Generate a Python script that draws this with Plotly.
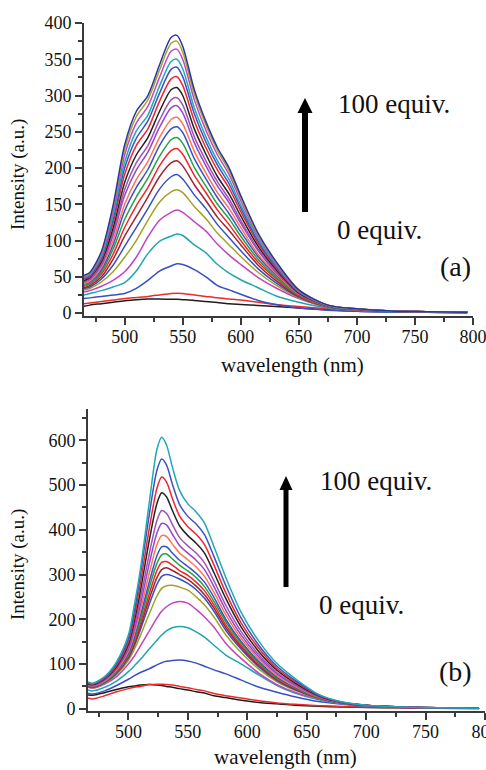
import plotly.graph_objects as go

W, H = 486, 770

# ---- panel (a): emission spectra, 0 -> 100 equiv. in steps of 5 ----
wl_a = [465, 470, 480, 490, 500, 510, 520, 530, 540, 545, 550, 560, 570, 580,
        590, 600, 615, 630, 650, 675, 700, 730, 760, 795]

a_eq000 = [9.5, 11, 13, 15, 17, 18.5, 19.5, 19.5, 19, 19, 18.5, 17.5, 16, 14.5, 13, 12, 10.5, 9, 7, 4.5, 2.5, 1.5, 1, 0.5]
a_eq005 = [13, 14, 16, 18, 20, 21.5, 23, 25, 27, 27.5, 27, 25, 23, 21, 19.5, 18, 15, 12, 9, 6, 3.5, 2, 1.2, 0.8]
a_eq010 = [20, 21, 23, 25, 27, 34, 45, 58, 65, 68, 67, 60, 50, 38, 32, 26, 17.5, 12, 7, 4, 2.5, 1.5, 1, 0.5]
a_eq015 = [25, 27, 31, 36, 42, 58, 82, 99, 106, 109, 107, 94, 83, 67, 55, 46, 35, 24, 15, 7, 4, 2, 1.2, 0.8]
a_eq020 = [29, 31, 37, 45, 57, 77, 105, 128, 139, 142, 139, 126, 113, 95, 80, 67, 49, 35, 20, 8, 4, 2.5, 1.5, 1]
a_eq025 = [32, 34, 43, 57, 77, 100, 128, 153, 167, 170, 166, 147, 130, 110, 94, 78, 56, 39, 21, 8.3, 4.2, 2.5, 1.6, 1]
a_eq030 = [34, 36, 47, 66, 92, 118, 144, 171, 188, 191, 185, 163, 144, 122, 104, 86, 61, 42, 22, 8.6, 4.4, 2.6, 1.6, 1]
a_eq035 = [35, 38, 50, 74, 106, 133, 160, 188, 207, 210, 203, 177, 155, 132, 114, 94, 66, 45, 23, 8.8, 4.6, 2.6, 1.6, 1]
a_eq040 = [37, 40, 54, 81, 118, 148, 173, 203, 224, 227, 219, 190, 166, 142, 122, 100, 70, 48, 24, 9, 4.7, 2.7, 1.7, 1]
a_eq045 = [38, 41, 57, 88, 129, 160, 186, 216, 239, 242, 234, 201, 175, 150, 130, 106, 74, 50, 25, 9.2, 4.8, 2.7, 1.7, 1]
a_eq050 = [40, 43, 60, 94, 141, 173, 198, 231, 254, 257, 249, 213, 185, 159, 137, 112, 78, 53, 26, 9.4, 5, 2.7, 1.7, 1]
a_eq055 = [41, 44, 63, 100, 150, 184, 209, 242, 267, 270, 261, 223, 193, 166, 144, 118, 81, 55, 26, 9.6, 5, 2.8, 1.8, 1]
a_eq060 = [43, 46, 66, 107, 162, 197, 222, 256, 283, 286, 276, 235, 203, 175, 152, 124, 86, 57, 27, 9.8, 5.2, 2.8, 1.8, 1]
a_eq065 = [44, 47, 68, 111, 170, 207, 231, 266, 294, 297, 287, 243, 210, 181, 157, 128, 88, 59, 28, 10, 5.3, 2.8, 1.8, 1]
a_eq070 = [45, 49, 71, 117, 180, 218, 242, 278, 308, 311, 300, 254, 219, 188, 164, 134, 92, 61, 28, 10, 5.4, 2.9, 1.9, 1]
a_eq075 = [47, 50, 74, 124, 191, 231, 254, 292, 323, 326, 314, 265, 228, 197, 172, 140, 96, 63, 29, 10.3, 5.5, 2.9, 1.9, 1]
a_eq080 = [48, 51, 76, 129, 200, 241, 265, 303, 336, 339, 326, 275, 236, 204, 178, 145, 99, 65, 30, 10.5, 5.6, 2.9, 1.9, 1]
a_eq085 = [49, 53, 78, 134, 208, 251, 273, 313, 347, 350, 337, 283, 243, 210, 184, 149, 102, 67, 30, 10.6, 5.7, 2.9, 1.9, 1]
a_eq090 = [50, 54, 81, 140, 218, 262, 285, 325, 361, 364, 350, 294, 252, 218, 191, 155, 105, 69, 31, 10.8, 5.8, 3, 2, 1]
a_eq095 = [51, 55, 83, 145, 226, 271, 294, 335, 372, 375, 360, 302, 259, 224, 196, 159, 108, 71, 32, 10.9, 5.9, 3, 2, 1]
a_eq100 = [52, 56, 85, 148, 232, 278, 300, 342, 380, 383, 368, 308, 264, 228, 200, 162, 110, 72, 32, 11, 6, 3, 2, 1]

series_a = [a_eq000, a_eq005, a_eq010, a_eq015, a_eq020, a_eq025, a_eq030,
            a_eq035, a_eq040, a_eq045, a_eq050, a_eq055, a_eq060, a_eq065,
            a_eq070, a_eq075, a_eq080, a_eq085, a_eq090, a_eq095, a_eq100]

# ---- panel (b): emission spectra ----
wl_b = [466, 470, 480, 490, 500, 505, 510, 518, 524, 528, 532, 537, 543, 550,
        557, 564, 572, 582, 595, 610, 625, 640, 660, 680, 700, 730, 760, 795]

b_s01 = [31, 30, 36, 43, 49, 51, 53, 54, 53, 52, 50, 48, 45, 42, 38, 35, 29, 25, 19, 14, 11, 8, 5.5, 4, 3, 2, 1, 0.5]
b_s02 = [24, 22, 29, 38, 45, 48, 50, 54, 55, 55, 54.5, 53, 50, 47, 43, 40, 34, 29, 24, 18, 13, 10, 7, 5, 3.5, 2, 1.2, 0.7]
b_s03 = [35, 33, 40, 52, 66, 74, 81, 90, 98, 103, 106, 108, 109, 107, 102, 95, 87, 78, 64, 48, 37, 27, 16, 10, 5.5, 3, 1.5, 1]
b_s04 = [42, 40, 48, 62, 83, 96, 110, 135, 153, 165, 174, 181, 184, 181, 172, 160, 142, 120, 100, 75, 52, 35, 20, 11, 6.5, 3.5, 2, 1]
b_s05 = [48, 46, 55, 72, 100, 118, 140, 176, 203, 218, 228, 236, 240, 236, 222, 205, 182, 146, 112, 79, 54, 37, 22, 12, 7, 3.5, 2, 1]
b_s06 = [50, 47, 57, 76, 108, 133, 163, 215, 252, 269, 275, 276, 272, 265, 250, 232, 205, 165, 125, 88, 60, 41, 23, 12.4, 7.1, 3.6, 2, 1]
b_s07 = [50, 48, 58, 79, 113, 141, 176, 237, 278, 296, 300, 297, 290, 280, 266, 247, 218, 175, 133, 93, 63, 43, 24, 12.6, 7.2, 3.6, 2, 1]
b_s08 = [51, 49, 59, 80, 116, 145, 183, 249, 293, 311, 315, 309, 300, 289, 274, 255, 225, 181, 137, 96, 65, 44, 24, 12.7, 7.2, 3.6, 2, 1]
b_s09 = [51, 49, 60, 81, 118, 150, 190, 261, 309, 327, 329, 321, 309, 298, 283, 264, 232, 187, 141, 99, 67, 46, 25, 12.8, 7.3, 3.6, 2, 1]
b_s10 = [52, 50, 60, 83, 121, 155, 198, 275, 325, 344, 346, 335, 321, 308, 293, 273, 240, 194, 146, 102, 69, 47, 25, 13, 7.3, 3.7, 2, 1]
b_s11 = [52, 50, 61, 84, 124, 160, 207, 288, 342, 362, 362, 348, 332, 318, 303, 283, 249, 200, 150, 105, 71, 48, 26, 13, 7.4, 3.7, 2, 1]
b_s12 = [53, 51, 62, 86, 128, 168, 218, 308, 367, 387, 385, 368, 348, 333, 317, 296, 260, 210, 157, 110, 74, 50, 26, 13.3, 7.4, 3.7, 2, 1]
b_s13 = [54, 52, 64, 89, 133, 176, 231, 330, 393, 414, 411, 390, 365, 348, 332, 311, 273, 220, 164, 115, 78, 53, 27, 13.5, 7.5, 3.8, 2, 1]
b_s14 = [55, 52, 65, 91, 138, 184, 244, 352, 421, 443, 437, 412, 383, 364, 348, 326, 286, 231, 172, 120, 81, 55, 28, 13.7, 7.6, 3.8, 2, 1]
b_s15 = [56, 54, 67, 94, 144, 196, 262, 383, 459, 483, 474, 443, 409, 387, 370, 348, 304, 246, 182, 127, 86, 58, 29, 14, 7.7, 3.8, 2, 1]
b_s16 = [57, 55, 68, 97, 150, 206, 279, 410, 493, 518, 507, 470, 431, 407, 390, 367, 321, 259, 191, 134, 90, 61, 30, 14.3, 7.8, 3.9, 2, 1]
b_s17 = [58, 56, 70, 101, 157, 218, 298, 442, 533, 558, 545, 502, 457, 430, 413, 389, 340, 275, 202, 141, 95, 64, 31, 14.6, 7.9, 3.9, 2, 1]
b_s18 = [60, 57, 72, 105, 165, 232, 310, 470, 580, 607, 590, 540, 488, 458, 440, 415, 362, 293, 215, 150, 101, 68, 32, 15, 8, 4, 2, 1]

series_b = [b_s01, b_s02, b_s03, b_s04, b_s05, b_s06, b_s07, b_s08, b_s09,
            b_s10, b_s11, b_s12, b_s13, b_s14, b_s15, b_s16, b_s17, b_s18]

# line colours, cycled in titration order
palette = ["#1e1e1e", "#ee2a2a", "#3a4fc4", "#1fa5ad", "#c243c2", "#a3a226",
           "#3550c2", "#a0242e", "#f0262e", "#25a244", "#3652c8", "#ff7452",
           "#9446cc", "#a452b4", "#222222", "#f0262e", "#3a52c4", "#22a8b2",
           "#c446c8", "#a4a428", "#2a36a4"]

SERIF = "Liberation Serif, Times New Roman, Times, serif"
AXIS_COL = "#3a3a3a"

fig = go.Figure()

for i, ys in enumerate(series_a):
    fig.add_trace(go.Scatter(
        x=wl_a, y=ys, mode="lines", xaxis="x", yaxis="y",
        line=dict(color=palette[i], width=1.5, shape="spline", smoothing=0.8),
        hoverinfo="skip"))

for i, ys in enumerate(series_b):
    fig.add_trace(go.Scatter(
        x=wl_b, y=ys, mode="lines", xaxis="x2", yaxis="y2",
        line=dict(color=palette[i], width=1.5, shape="spline", smoothing=0.8),
        hoverinfo="skip"))


def px(x):
    return x / W


def py(y):
    return 1 - y / H


axis_common = dict(
    showgrid=False, zeroline=False, showline=True, linecolor=AXIS_COL,
    linewidth=1.8, ticks="outside", tickcolor=AXIS_COL, tickwidth=1.5,
    ticklen=7, tickfont=dict(family=SERIF, size=18, color="#111111"),
    mirror=False, automargin=False, ticklabeloverflow="allow",
)
x_minor = dict(tickvals=[475, 525, 575, 625, 675, 725, 775],
               ticklen=4, tickcolor=AXIS_COL, ticks="outside")

fig.update_layout(
    template="none",
    width=W, height=H, margin=dict(l=0, r=0, t=0, b=0, pad=0),
    paper_bgcolor="white", plot_bgcolor="white", showlegend=False,
    xaxis=dict(axis_common, domain=[px(84), px(473)], range=[465, 800],
               tickvals=[500, 550, 600, 650, 700, 750, 800], anchor="y",
               ticklabelstandoff=-4, minor=x_minor),
    yaxis=dict(axis_common, domain=[py(316), py(23)], range=[-4, 400],
               tickvals=[0, 50, 100, 150, 200, 250, 300, 350, 400], anchor="x",
               minor=dict(tickvals=[25, 75, 125, 175, 225, 275, 325, 375],
                          ticklen=4, tickcolor=AXIS_COL, ticks="outside")),
    xaxis2=dict(axis_common, domain=[px(88), px(485)], range=[466, 800],
                tickvals=[500, 550, 600, 650, 700, 750, 800], anchor="y2",
                ticklabelstandoff=-4, minor=x_minor),
    yaxis2=dict(axis_common, domain=[py(711), py(409)], range=[-5, 670],
                tickvals=[0, 100, 200, 300, 400, 500, 600], anchor="x2",
                minor=dict(tickvals=[50, 150, 250, 350, 450, 550, 650],
                           ticklen=4, tickcolor=AXIS_COL, ticks="outside")),
)

notes = [
    # axis titles
    dict(text="Intensity (a.u.)", x=px(18), y=py(175), textangle=-90, size=19),
    dict(text="wavelength (nm)", x=px(292), y=py(365), size=21),
    dict(text="Intensity (a.u.)", x=px(18), y=py(565), textangle=-90, size=19),
    dict(text="wavelength (nm)", x=px(285), y=py(757), size=21),
    # panel (a) labels
    dict(text="100 equiv.", x=px(394), y=py(104), size=27),
    dict(text="0 equiv.", x=px(379), y=py(230), size=27),
    dict(text="(a)", x=px(455), y=py(266), size=28),
    # panel (b) labels
    dict(text="100 equiv.", x=px(376), y=py(481), size=27),
    dict(text="0 equiv.", x=px(361), y=py(605), size=27),
    dict(text="(b)", x=px(455), y=py(671), size=28),
]
fig.update_layout(annotations=[
    dict(text=n["text"], x=n["x"], y=n["y"], xref="paper", yref="paper",
         xanchor="center", yanchor="middle", showarrow=False,
         textangle=n.get("textangle", 0),
         font=dict(family=SERIF, size=n["size"], color="#111111"))
    for n in notes
])


def arrow(x, y_tail, y_tip, shaft_w, head_w, head_len):
    base = y_tip + head_len
    return [
        dict(type="rect", xref="paper", yref="paper",
             x0=px(x - shaft_w / 2), x1=px(x + shaft_w / 2),
             y0=py(y_tail), y1=py(base - 1),
             fillcolor="black", line=dict(width=0)),
        dict(type="path", xref="paper", yref="paper",
             path=(f"M {px(x - head_w / 2)} {py(base)} "
                   f"L {px(x + head_w / 2)} {py(base)} "
                   f"L {px(x)} {py(y_tip)} Z"),
             fillcolor="black", line=dict(width=0)),
    ]


fig.update_layout(shapes=arrow(305, 212, 98, 6, 15, 15) + arrow(286, 587, 476, 5, 13, 14))

fig.write_html("out.html")
